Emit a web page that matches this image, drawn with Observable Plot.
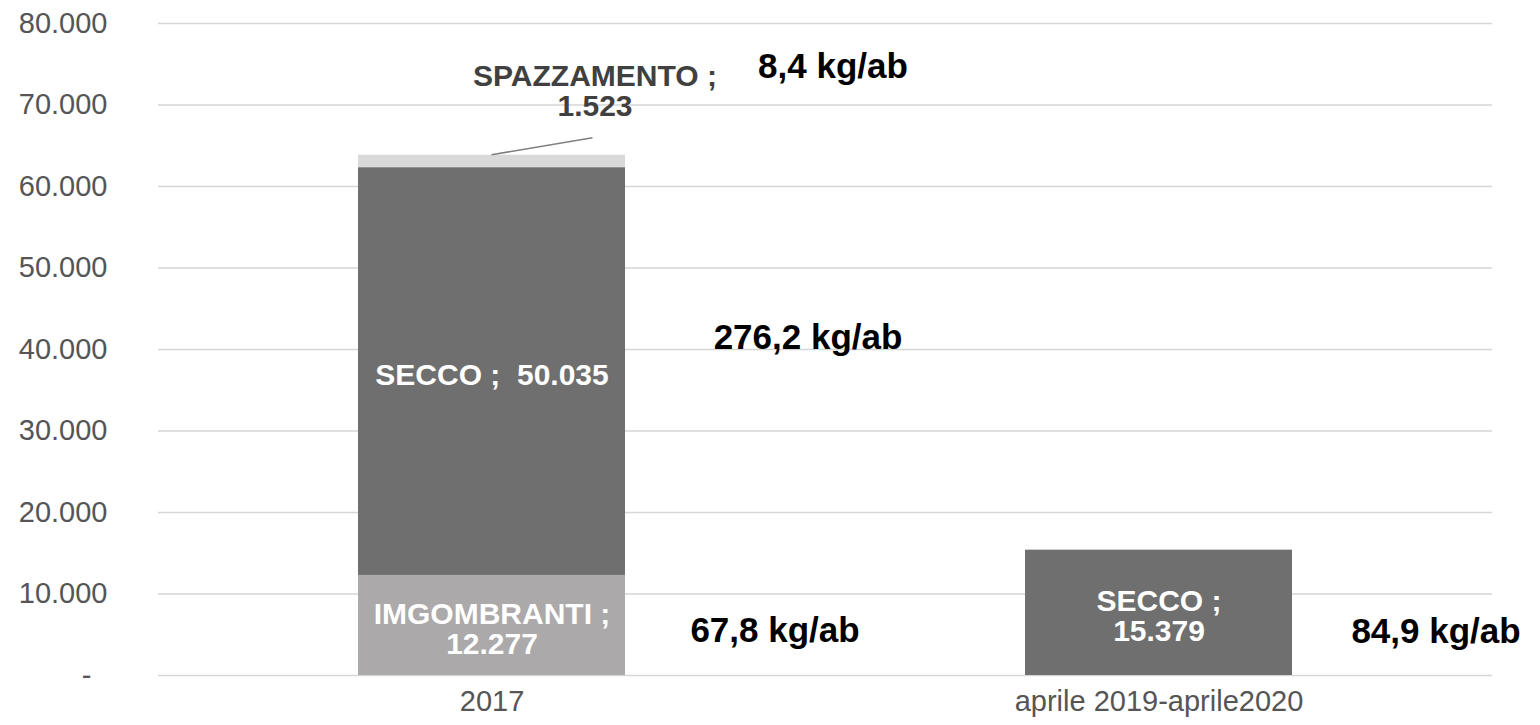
<!DOCTYPE html>
<html><head><meta charset="utf-8">
<script src="https://cdn.jsdelivr.net/npm/d3@7"></script>
<script src="https://cdn.jsdelivr.net/npm/@observablehq/plot@0.6"></script>
<style>body{margin:0;background:#fff} svg{display:block}</style>
</head><body><div id="chart"></div>
<script>
// ---- data ----
const categories = ["2017", "aprile 2019-aprile2020"];
const seriesNames = ["IMGOMBRANTI", "SECCO", "SPAZZAMENTO"];
const values2017 = [12277, 50035, 1523];
const values2019 = [null, 15379, null];
const kgAb2017 = [67.8, 276.2, 8.4];
const kgAb2019 = [null, 84.9, null];
const seriesColors = ["#aba9a9", "#6f6f6f", "#d9d9d9"];
const yTicks = [0, 10000, 20000, 30000, 40000, 50000, 60000, 70000, 80000];

// ---- formatting ----
const itLocale = d3.formatLocale({decimal: ",", thousands: ".", grouping: [3], currency: ["€", ""]});
const fmtInt = itLocale.format(",d");
const fmtKg = itLocale.format(",.1f");

// ---- stacked rows ----
const rows = [];
[values2017, values2019].forEach((vals, ci) => {
  const kgs = [kgAb2017, kgAb2019][ci];
  let acc = 0;
  vals.forEach((v, si) => {
    if (v == null) return;
    rows.push({category: categories[ci], series: seriesNames[si], value: v,
      y1: acc, y2: acc + v, mid: acc + v / 2, kg: kgs[si]});
    acc += v;
  });
});

const inside = rows.filter(r => r.series !== "SPAZZAMENTO");
const outside = rows.filter(r => r.series === "SPAZZAMENTO");
const insideText = r => r.value > 30000
  ? `${r.series} ;\u00a0 ${fmtInt(r.value)}`
  : `${r.series} ;\n${fmtInt(r.value)}`;

// label offsets (styling)
const kgOffsets = {
  "2017|IMGOMBRANTI": {dx: 283, dy: 5},
  "2017|SECCO": {dx: 316, dy: -34},
  "2017|SPAZZAMENTO": {dx: 341, dy: -95},
  "aprile 2019-aprile2020|SECCO": {dx: 277, dy: 19}
};
const kgMarks = rows.filter(r => r.kg != null).map(r => {
  const o = kgOffsets[r.category + "|" + r.series];
  return Plot.text([r], {x: "category", y: "mid", text: d => `${fmtKg(d.kg)} kg/ab`,
    dx: o.dx, dy: o.dy, fontSize: 35, fontWeight: "bold", fill: "#000"});
});

const leader = (index, scales) => {
  const r = outside[0];
  const bw = typeof scales.x.bandwidth === "function" ? scales.x.bandwidth() : scales.scales.x.bandwidth;
  const x0 = scales.x(r.category) + bw / 2;
  const y0 = scales.y(r.y2);
  const line = document.createElementNS("http://www.w3.org/2000/svg", "line");
  line.setAttribute("x1", x0);
  line.setAttribute("y1", y0);
  line.setAttribute("x2", x0 + 101);
  line.setAttribute("y2", y0 - 17);
  line.setAttribute("stroke", "#7f7f7f");
  line.setAttribute("stroke-width", 1.5);
  return line;
};

const chart = Plot.plot({
  width: 1540,
  height: 725,
  marginLeft: 158,
  marginRight: 48,
  marginTop: 23,
  marginBottom: 50,
  style: {fontFamily: "'Liberation Sans', Arial, sans-serif", background: "#fff"},
  x: {domain: categories, paddingInner: 0.6, paddingOuter: 0.3},
  y: {domain: [0, 80000]},
  color: {domain: seriesNames, range: seriesColors},
  marks: [
    Plot.ruleY(yTicks, {stroke: "#d6d6d6", strokeWidth: 1.5}),
    Plot.axisY({ticks: yTicks, tickSize: 0, tickPadding: 51, label: null, fontSize: 29, color: "#555555",
      tickFormat: d => d === 0 ? "-\u2007" : fmtInt(d)}),
    Plot.axisX({tickSize: 0, tickPadding: 15, label: null, fontSize: 29, color: "#555555"}),
    Plot.barY(rows, {x: "category", y1: "y1", y2: "y2", fill: "series"}),
    Plot.text(inside, {x: "category", y: "mid", text: insideText, dy: 4, fill: "#fff",
      fontSize: 30, fontWeight: "bold", lineHeight: 1.0}),
    Plot.text(outside, {x: "category", y: "y2", text: r => `${r.series} ;\n${fmtInt(r.value)}`,
      dx: 103, dy: -64, fill: "#404040", fontSize: 30, fontWeight: "bold", lineHeight: 1.02}),
    leader,
    ...kgMarks
  ]
});
document.getElementById("chart").append(chart);
</script>
</body></html>
